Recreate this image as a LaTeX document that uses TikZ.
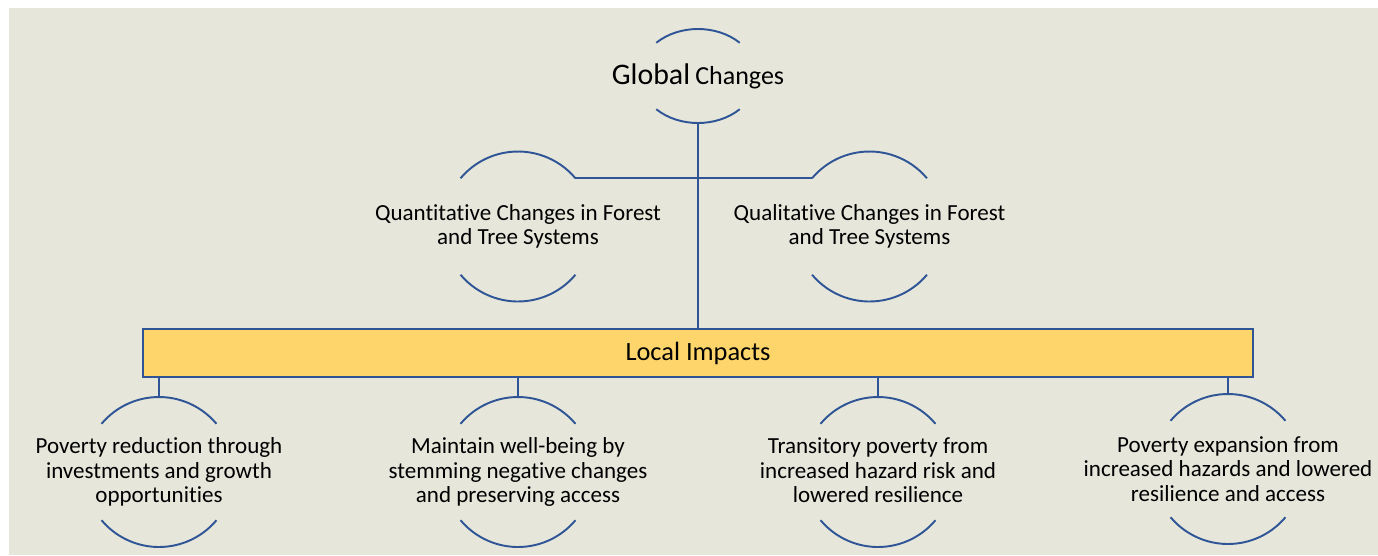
\documentclass[tikz,border=0pt]{standalone}
\usepackage{fontspec}
\setmainfont{Carlito}[Ligatures=NoCommon]
\usetikzlibrary{positioning,calc}
\definecolor{rimblue}{RGB}{47,85,151}
\definecolor{impact}{RGB}{253,213,106}
\definecolor{canvas}{RGB}{230,231,218}

\begin{document}
\begin{tikzpicture}[line width=1.1pt,
	rim/.style={draw=rimblue,line width=1.1pt},
	txt/.style={align=center,inner sep=0pt,font=\fontsize{13.1}{13.9}\selectfont}]
	\useasboundingbox (0,0) rectangle (27.56,-11.1);
	\fill[canvas] (0.18,-0.16) rectangle (27.56,-11.1);

	\node[txt] (glob) at (13.96,-1.52) {{\fontsize{17}{17}\selectfont Global} {\fontsize{14.8}{15}\selectfont Changes}};
	\node[txt] (qt) at (10.36,-4.53) {Quantitative Changes in Forest\\and Tree Systems};
	\node[txt] (ql) at (17.39,-4.53) {Qualitative Changes in Forest\\and Tree Systems};
	\node[draw=rimblue,fill=impact,line width=0.8pt,minimum width=22.2cm,minimum height=0.96cm,inner sep=0pt,font=\fontsize{15}{15}\selectfont] (li) at (13.96,-7.06) {Local Impacts};

	\node[txt] (p1) at (3.18,-9.44) {Poverty reduction through\\investments and growth\\opportunities};
	\node[txt] (p2) at (10.36,-9.44) {Maintain well-being by\\stemming negative changes\\and preserving access};
	\node[txt] (p3) at (17.56,-9.41) {Transitory poverty from\\increased hazard risk and\\lowered resilience};
	\node[txt] (p4) at (24.56,-9.38) {Poverty expansion from\\increased hazards and lowered\\resilience and access};

	% half rims round the texts
	\draw[rim] ([shift={(45:1.18 and 0.94)}]glob.center) arc[start angle=45,end angle=135,x radius=1.18,y radius=0.94];
	\draw[rim] ([shift={(225:1.18 and 0.94)}]glob.center) arc[start angle=225,end angle=315,x radius=1.18,y radius=0.94];
	\foreach \n in {qt,ql,p1,p2,p4} {
		\draw[rim] ([shift={(40:1.5)}]\n.center) arc[start angle=40,end angle=140,radius=1.5];
		\draw[rim] ([shift={(220:1.5)}]\n.center) arc[start angle=220,end angle=320,radius=1.5];
	}
	\draw[rim] ([shift={(40:1.5)}]p3.center) ++(0,-0.03) arc[start angle=40,end angle=140,radius=1.5];
	\draw[rim] ([shift={(220:1.5)}]p3.center) ++(0,-0.03) arc[start angle=220,end angle=320,radius=1.5];

	\draw[rim] ([yshift=-0.94cm]glob.center) -- (glob.center |- li.north);
	\draw[rim] ([shift={(40:1.5)}]qt.center) -- ([shift={(140:1.5)}]ql.center);
	\foreach \n in {p1,p2,p4}
		\draw[rim] (\n.center |- li.south) -- ([yshift=1.5cm]\n.center);
	\draw[rim] (p3.center |- li.south) -- ([yshift=1.47cm]p3.center);
\end{tikzpicture}
\end{document}
